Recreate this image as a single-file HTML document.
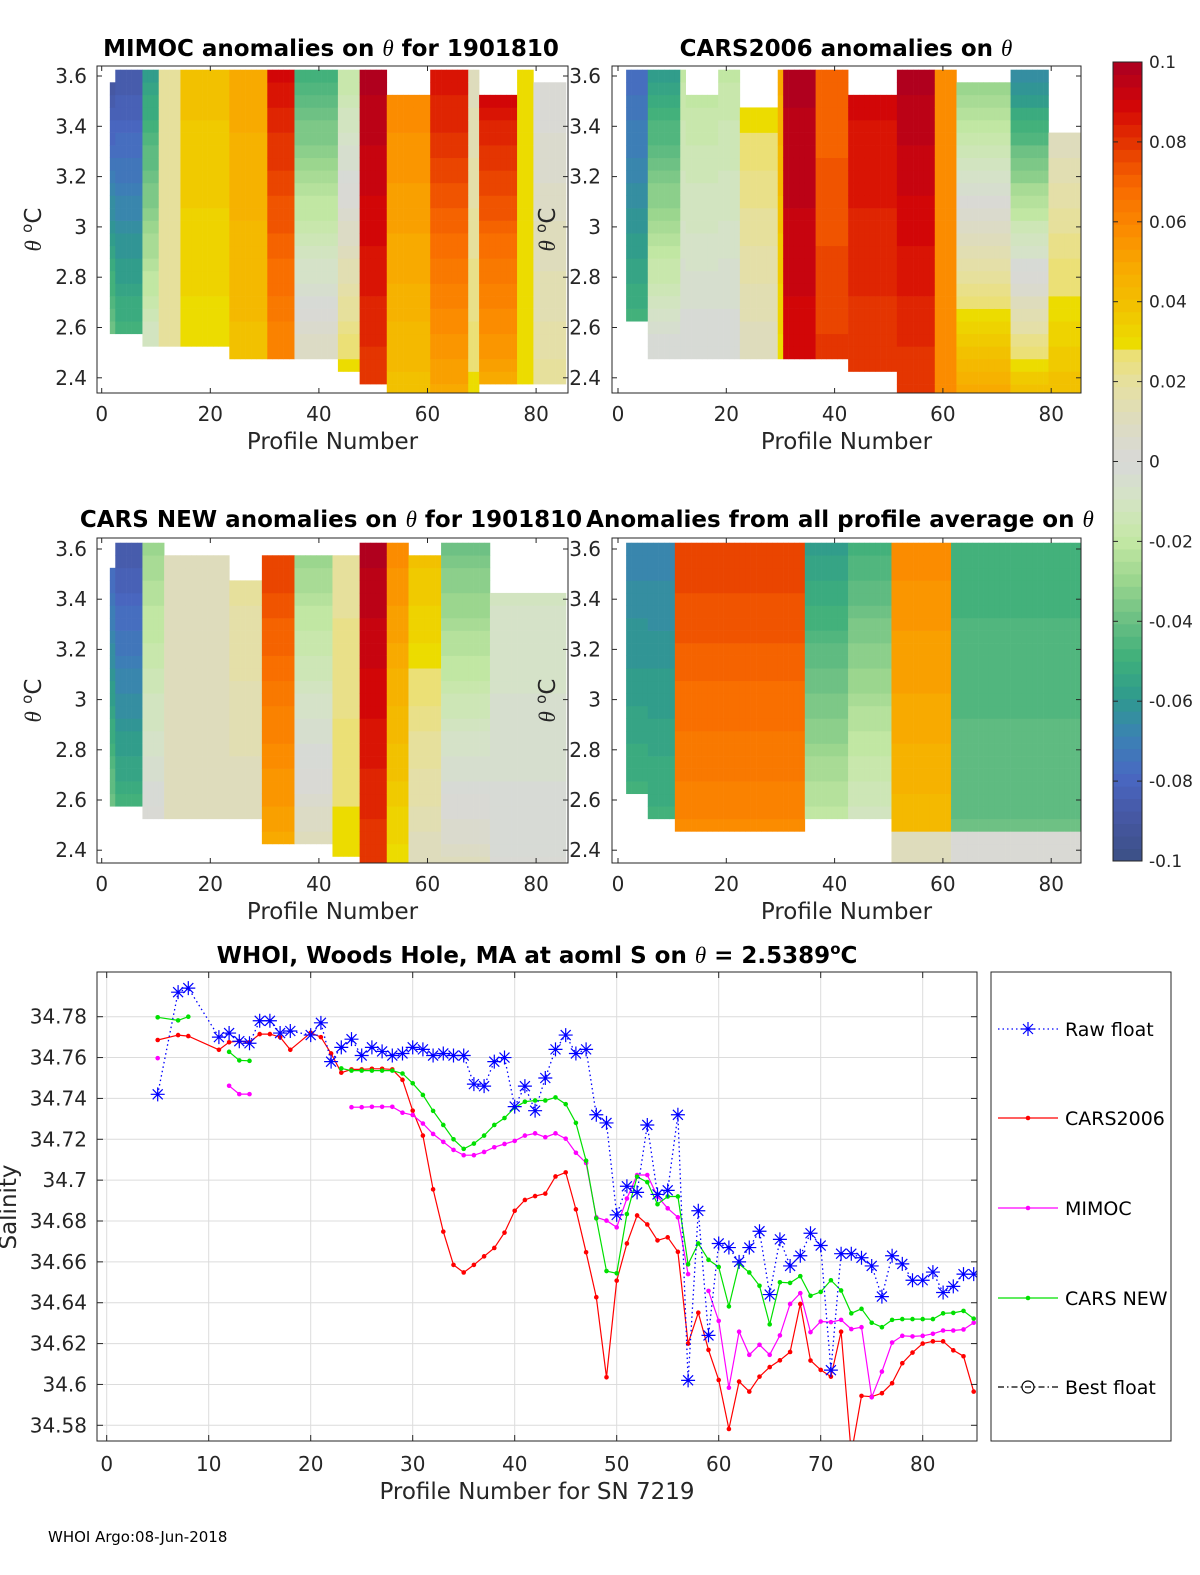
<!DOCTYPE html>
<html><head><meta charset="utf-8">
<style>
html,body{margin:0;padding:0;background:#fff;width:1200px;height:1575px;overflow:hidden;}
svg{display:block;font-family:"DejaVu Sans","Liberation Sans",sans-serif;}
.th{font-family:"Liberation Serif","DejaVu Serif",serif;font-style:italic;font-weight:normal;}
</style></head>
<body>
<svg id="fig" width="1200" height="1575" viewBox="0 0 1200 1575" xmlns="http://www.w3.org/2000/svg">
<rect width="1200" height="1575" fill="#fff"/>
<g id="panels"></g>
<g id="bottom"></g>
<text x="48" y="1542" font-size="15" fill="#000">WHOI Argo:08-Jun-2018</text>
</svg>
<script>
// ---------- heatmap data (runs of profiles; values in units of 0.01) ----------
const P1_end=[1,2,7,10,14,23,30,35,43,47,52,60,67,69,76,79,85];
const P1_top=[null,-9,-9,-6,2,4,5,9,-5,-2,10,6,9,1,9,3,0];
const P1_bot=[null,-4,-5,-1,2,3,4,6,1,3,8,4,5,3,5,3,2];
const P1_hi=[0,3.55,3.64,3.64,3.64,3.64,3.64,3.64,3.64,3.64,3.64,3.53,3.64,3.64,3.53,3.64,3.55];
const P1_lo=[0,2.6,2.6,2.55,2.55,2.55,2.5,2.48,2.48,2.45,2.38,2.35,2.35,2.35,2.38,2.4,2.4];

const P2_end=[1,5,11,12,18,22,29,30,36,42,51,58,62,72,79,85];
const P2_top=[null,-8,-6,-2,-2,-2,3,5,10,7,9,10,6,-3,-7,1];
const P2_bot=[null,-5,0,0,0,0,1,3,9,8,8,8,6,5,4,4];
const P2_hi=[0,3.64,3.64,3.64,3.53,3.64,3.45,3.64,3.64,3.64,3.53,3.64,3.64,3.55,3.64,3.38];
const P2_lo=[0,2.63,2.49,2.49,2.49,2.49,2.49,2.49,2.49,2.49,2.45,2.35,2.35,2.35,2.35,2.35];

const P3_end=[1,2,7,11,23,29,35,42,47,52,56,62,71,85];
const P3_top=[null,-8,-9,-3,1,2,8,-3,2,10,6,4,-4,-1];
const P3_bot=[null,-4,-5,0,1,1,5,1,3,8,3,1,1,0];
const P3_hi=[0,3.52,3.64,3.64,3.58,3.45,3.58,3.58,3.58,3.64,3.64,3.58,3.64,3.4];
const P3_lo=[0,2.6,2.58,2.55,2.55,2.52,2.45,2.45,2.4,2.35,2.35,2.35,2.35,2.35];

const P4_end=[1,5,10,34,42,50,61,85];
const P4_top=[null,-7,-7,8,-6,-5,6,-5];
const P4_bot=[null,-5,-5,6,-2,-1,4,-4];
const P4_hi=[0,3.64,3.64,3.64,3.64,3.64,3.64,3.64];
const P4_lo=[0,2.62,2.55,2.49,2.52,2.52,2.35,2.35];
const P4_floorTh=[0,0,0,0,0,0,2.5,2.5];
const P4_floorVal=[0,0,0,0,0,0,1,0];

const XTICKS_TOP=[0,20,40,60,80];
const YTICKS_TOP=[3.6,3.4,3.2,3,2.8,2.6,2.4];
const CB_TICKS=[0.1,0.08,0.06,0.04,0.02,0,-0.02,-0.04,-0.06,-0.08,-0.1];

// ---------- salinity line chart data ----------
const PROF=[5,7,8,11,12,13,14,15,16,17,18,20,21,22,23,24,25,26,27,28,29,30,31,32,33,34,35,36,37,38,39,40,41,42,43,44,45,46,47,48,49,50,51,52,53,54,55,56,57,58,59,60,61,62,63,64,65,66,67,68,69,70,71,72,73,74,75,76,77,78,79,80,81,82,83,84,85];
const RAW=[34.742,34.792,34.794,34.770,34.772,34.768,34.767,34.778,34.778,34.772,34.773,34.771,34.777,34.758,34.765,34.769,34.761,34.765,34.763,34.761,34.762,34.765,34.764,34.761,34.762,34.761,34.761,34.747,34.746,34.758,34.760,34.736,34.746,34.734,34.750,34.764,34.771,34.762,34.764,34.732,34.728,34.683,34.697,34.694,34.727,34.693,34.695,34.732,34.602,34.685,34.624,34.669,34.667,34.660,34.667,34.675,34.644,34.671,34.658,34.663,34.674,34.668,34.607,34.664,34.664,34.662,34.658,34.643,34.663,34.659,34.651,34.651,34.655,34.645,34.648,34.654,34.654];
const CARS06=[34.7686,34.771,34.7705,34.7638,34.7675,34.768,34.7675,34.7715,34.7715,34.770,34.7638,34.7721,34.770,34.762,34.7526,34.7542,34.7542,34.7545,34.7545,34.7542,34.7491,34.734,34.7218,34.6955,34.6748,34.6585,34.6548,34.6585,34.6627,34.6668,34.6743,34.685,34.6903,34.6922,34.6934,34.7018,34.7038,34.6857,34.6647,34.6427,34.6035,34.6508,34.669,34.6827,34.6783,34.6705,34.672,34.6649,34.62,34.6351,34.6169,34.6022,34.5782,34.6014,34.5965,34.6038,34.6085,34.6118,34.6159,34.6394,34.6117,34.6071,34.6038,34.6258,34.566,34.5944,34.594,34.5957,34.6006,34.6104,34.6156,34.62,34.6211,34.6211,34.6167,34.6138,34.5965];
const MIMOC=[34.7597,null,null,null,34.7462,34.7421,34.7421,null,null,null,null,null,null,null,null,34.7357,34.7357,34.7359,34.7359,34.7359,34.733,34.7319,34.7277,34.7226,34.7187,34.7148,34.7122,34.7122,34.7138,34.7161,34.7177,34.7192,34.7218,34.7229,34.721,34.7229,34.7203,34.7134,34.7084,34.6818,34.6802,34.6769,34.691,34.7025,34.7025,34.692,34.6862,34.6818,34.654,null,34.6458,34.6311,34.5984,34.6258,34.6145,34.6194,34.6145,34.624,34.6394,34.6447,34.6256,34.6308,34.6305,34.6316,34.6271,34.628,34.5937,34.6063,34.6205,34.6238,34.6235,34.6238,34.6248,34.6264,34.6264,34.6269,34.6302];
const CARSNEW=[34.7797,34.7782,34.780,null,34.7628,34.7586,34.7584,null,null,null,null,null,null,null,34.7547,34.7536,34.7536,34.7536,34.7536,34.7536,34.7522,34.7474,34.7417,34.7339,34.727,34.72,34.7153,34.7179,34.7218,34.727,34.7304,34.7355,34.7384,34.739,34.739,34.7405,34.7372,34.728,34.7095,34.6813,34.6555,34.6544,34.6834,34.7017,34.699,34.6882,34.692,34.692,34.6588,34.669,34.661,34.6575,34.6382,34.659,34.6548,34.6483,34.6294,34.650,34.6497,34.653,34.6434,34.6453,34.651,34.646,34.6348,34.637,34.6302,34.628,34.6316,34.632,34.632,34.632,34.632,34.6348,34.635,34.636,34.6322];
const XTICKS_B=[0,10,20,30,40,50,60,70,80];
const YTICKS_B=[34.58,34.6,34.62,34.64,34.66,34.68,34.7,34.72,34.74,34.76,34.78];

const NS="http://www.w3.org/2000/svg";
function mk(tag,attrs,parent){const e=document.createElementNS(NS,tag);for(const k in attrs)e.setAttribute(k,attrs[k]);if(parent)parent.appendChild(e);return e;}

const CM_V=[-10,-9,-8,-7,-6,-5,-4,-3,-2,-1,0,1,2,2.8,3,4,5,6,7,8,9,10];
const CM_C=["#3d5189","#4658a4","#4968c2","#3b82b4","#2f9a8e","#3fb07a","#6cc084","#9cd68e","#c4e8a4","#d4e4c4","#d8d8d8","#dddcc0","#e6e0a0","#ece070","#ecdc00","#f2c000","#f9a800","#fb8800","#f86a00","#e63a00","#d40606","#b0001e"];
function hx(c){return [parseInt(c.substr(1,2),16),parseInt(c.substr(3,2),16),parseInt(c.substr(5,2),16)];}
function cmap(v){
  v=Math.max(-10,Math.min(10,v));
  v=Math.round((v+10)/20*63)/63*20-10;
  for(let i=0;i<CM_V.length-1;i++){
    if(v<=CM_V[i+1]){const t=(v-CM_V[i])/(CM_V[i+1]-CM_V[i]);const a=hx(CM_C[i]),b=hx(CM_C[i+1]);
      return "rgb("+a.map((x,j)=>Math.round(x+(b[j]-x)*t)).join(",")+")";}
  }
  return CM_C[CM_C.length-1];
}

const panelsG=document.getElementById('panels');
const PANELS=[
 {name:"mimoc",L:97,R:568,T:66,B:393,x0:101.7,xs:5.43,y36:76,ys:251.5,labRight:87,title:["MIMOC anomalies on ","θ","  for 1901810"],tx:331,ty:56,end:P1_end,top:P1_top,bot:P1_bot,hi:P1_hi,lo:P1_lo,ylabX:36},
 {name:"cars2006",L:612,R:1081,T:66,B:393,x0:618,xs:5.415,y36:76,ys:251.5,labRight:601,title:["CARS2006 anomalies on ","θ",""],tx:846,ty:56,end:P2_end,top:P2_top,bot:P2_bot,hi:P2_hi,lo:P2_lo,ylabX:550},
 {name:"cars-new",L:97,R:568,T:538,B:863,x0:101.7,xs:5.43,y36:549,ys:251,labRight:87,title:["CARS NEW anomalies on ","θ"," for 1901810"],tx:331,ty:527,end:P3_end,top:P3_top,bot:P3_bot,hi:P3_hi,lo:P3_lo,ylabX:36},
 {name:"all-avg",L:612,R:1081,T:538,B:863,x0:618,xs:5.415,y36:549,ys:251,labRight:601,title:["Anomalies from all profile average on ","θ",""],tx:840,ty:527,end:P4_end,top:P4_top,bot:P4_bot,hi:P4_hi,lo:P4_lo,floorTh:P4_floorTh,floorVal:P4_floorVal,ylabX:550}
];

PANELS.forEach((P,pi)=>{
  const g=mk('g',{},panelsG);
  
  
  const X=p=>P.x0+p*P.xs, Y=t=>P.y36+(3.6-t)*P.ys;
  const cid='clip'+pi;
  const cp=mk('clipPath',{id:cid},g);mk('rect',{x:P.L,y:P.T,width:P.R-P.L,height:P.B-P.T},cp);
  const hm=mk('g',{'clip-path':'url(#'+cid+')'},g);
  
  
  let start=1;
  for(let r=0;r<P.end.length;r++){
    const e=P.end[r];
    if(P.top[r]!==null){
      for(let p=start;p<=e;p++){
        for(let k=0;k<28;k++){
          const c=2.30+k*0.05;
          if(c<P.lo[r]-0.001||c>P.hi[r]+0.001)continue;
          const f=(c-P.lo[r])/(P.hi[r]-P.lo[r]);
          let v=P.bot[r]+(P.top[r]-P.bot[r])*f;
          if(P.floorTh&&P.floorTh[r]&&c<P.floorTh[r])v=P.floorVal[r];
          const cell=mk('rect',{x:X(p-0.5).toFixed(2),y:Y(c+0.025).toFixed(2),width:(P.xs+0.3).toFixed(2),height:(0.05*P.ys+0.3).toFixed(2),fill:cmap(v)},hm);
          
          
        }
      }
    }
    start=e+1;
  }
  const fr=mk('rect',{x:P.L,y:P.T,width:P.R-P.L,height:P.B-P.T,fill:'none',stroke:'#262626','stroke-width':1},g);
  
  
  XTICKS_TOP.forEach(t=>{
    const x=X(t);
    mk('line',{x1:x,x2:x,y1:P.B,y2:P.B-5,stroke:'#262626'},g);
    mk('line',{x1:x,x2:x,y1:P.T,y2:P.T+5,stroke:'#262626'},g);
    const tl=mk('text',{x:x,y:P.B+28,'font-size':20,'text-anchor':'middle',fill:'#262626'},g);
    tl.textContent=t;
    
    
  });
  YTICKS_TOP.forEach(t=>{
    const y=Y(t);
    mk('line',{x1:P.L,x2:P.L+5,y1:y,y2:y,stroke:'#262626'},g);
    mk('line',{x1:P.R,x2:P.R-5,y1:y,y2:y,stroke:'#262626'},g);
    const tl=mk('text',{x:P.labRight,y:y+7,'font-size':20,'text-anchor':'end',fill:'#262626'},g);
    tl.textContent=String(t);
    
    
  });
  const xl=mk('text',{x:(P.L+P.R)/2,y:P.B+56,'font-size':23,'text-anchor':'middle',fill:'#262626'},g);
  xl.textContent='Profile Number';
  
  
  const yl=mk('text',{x:0,y:0,'font-size':23,'text-anchor':'middle',fill:'#262626',transform:'translate('+(P.ylabX+5)+','+((P.T+P.B)/2)+') rotate(-90)'},g);
  yl.innerHTML='<tspan class="th">θ</tspan> <tspan font-size="15" dy="-9">o</tspan><tspan dy="9">C</tspan>';
  
  
  const ti=mk('text',{x:P.tx,y:P.ty,'font-size':23,'font-weight':'bold','text-anchor':'middle',fill:'#000'},g);
  ti.innerHTML=P.title[0]+'<tspan class="th">'+P.title[1]+'</tspan>'+P.title[2];
  
  
});

(function(){
  const g=mk('g',{},panelsG);
  
  
  const L=1113,R=1142,T=62,B=861;
  const n=64;
  for(let i=0;i<n;i++){
    const v=-10+20*(i+0.5)/n;
    mk('rect',{x:L,y:(B-(i+1)*(B-T)/n).toFixed(2),width:R-L,height:((B-T)/n+0.5).toFixed(2),fill:cmap(v)},g);
  }
  mk('rect',{x:L,y:T,width:R-L,height:B-T,fill:'none',stroke:'#262626'},g);
  CB_TICKS.forEach(t=>{
    const y=B-(t+0.1)/0.2*(B-T);
    mk('line',{x1:R,x2:R-5,y1:y,y2:y,stroke:'#262626'},g);
    mk('line',{x1:L,x2:L+5,y1:y,y2:y,stroke:'#262626'},g);
    const tl=mk('text',{x:1149,y:y+6,'font-size':17,fill:'#262626'},g);
    tl.textContent=String(t);
    
    
  });
})();

(function(){
  const g=document.getElementById('bottom');
  const L=97,R=977,T=972,B=1441;
  const X=p=>106.7+p*10.2, Y=s=>1016.7+(34.78-s)*2043;
  const gridG=mk('g',{},g);
  
  
  XTICKS_B.forEach(t=>{mk('line',{x1:X(t),x2:X(t),y1:T,y2:B,stroke:'#dcdcdc'},gridG);});
  YTICKS_B.forEach(t=>{mk('line',{x1:L,x2:R,y1:Y(t),y2:Y(t),stroke:'#dcdcdc'},gridG);});
  const cp=mk('clipPath',{id:'clipB'},g);mk('rect',{x:L,y:T,width:R-L,height:B-T},cp);
  const plot=mk('g',{'clip-path':'url(#clipB)'},g);
  function series(vals,color,name,dash,marker){
    const sg=mk('g',{},plot);
    
    
    let d='',pen=false;
    vals.forEach((v,i)=>{
      if(v===null){pen=false;return;}
      d+=(pen?'L':'M')+X(PROF[i]).toFixed(1)+' '+Y(v).toFixed(1)+' ';pen=true;
    });
    const ln=mk('path',{d:d,fill:'none',stroke:color,'stroke-width':dash?1.3:1.2},sg);
    if(dash)ln.setAttribute('stroke-dasharray',dash);
    
    
    vals.forEach((v,i)=>{
      if(v===null)return;
      const x=X(PROF[i]),y=Y(v);
      if(marker==='star'){
        const m=mk('path',{d:`M${x-7} ${y}H${x+7}M${x} ${y-7}V${y+7}M${x-5} ${y-5}L${x+5} ${y+5}M${x-5} ${y+5}L${x+5} ${y-5}`,stroke:color,'stroke-width':1.2,fill:'none'},sg);
        
        
      }else{
        const m=mk('circle',{cx:x,cy:y,r:2.3,fill:color},sg);
        
        
      }
    });
  }
  series(CARS06,'#ff0000','cars2006',null,'dot');
  series(MIMOC,'#ff00ff','mimoc',null,'dot');
  series(CARSNEW,'#00e000','cars-new',null,'dot');
  series(RAW,'#0000ff','raw-float','1.5 3','star');
  const fr=mk('rect',{x:L,y:T,width:R-L,height:B-T,fill:'none',stroke:'#262626'},g);
  
  
  XTICKS_B.forEach(t=>{
    mk('line',{x1:X(t),x2:X(t),y1:B,y2:B-6,stroke:'#262626'},g);
    mk('line',{x1:X(t),x2:X(t),y1:T,y2:T+6,stroke:'#262626'},g);
    const tl=mk('text',{x:X(t),y:B+30,'font-size':20,'text-anchor':'middle',fill:'#262626'},g);
    tl.textContent=t;
    
    
  });
  YTICKS_B.forEach(t=>{
    mk('line',{x1:L,x2:L+6,y1:Y(t),y2:Y(t),stroke:'#262626'},g);
    mk('line',{x1:R,x2:R-6,y1:Y(t),y2:Y(t),stroke:'#262626'},g);
    const tl=mk('text',{x:87,y:Y(t)+7,'font-size':20,'text-anchor':'end',fill:'#262626'},g);
    tl.textContent=String(t);
    
    
  });
  const xl=mk('text',{x:537,y:1499,'font-size':23,'text-anchor':'middle',fill:'#262626'},g);
  xl.textContent='Profile Number for SN 7219';
  
  
  const yl=mk('text',{x:0,y:0,'font-size':23,'text-anchor':'middle',fill:'#262626',transform:'translate(16,1207) rotate(-90)'},g);
  yl.textContent='Salinity';
  
  
  const ti=mk('text',{x:537,y:963,'font-size':23,'font-weight':'bold','text-anchor':'middle',fill:'#000'},g);
  ti.innerHTML='WHOI, Woods Hole, MA at aoml S on <tspan class="th">θ</tspan> = 2.5389<tspan font-size="15" dy="-9">o</tspan><tspan dy="9">C</tspan>';
  
  

  const lg=mk('g',{},g);
  
  
  mk('rect',{x:991,y:972,width:180,height:469,fill:'#fff',stroke:'#262626'},lg);
  const LEG=[['Raw float','#0000ff','1.5 3','star',1029],['CARS2006','#ff0000',null,'dot',1118],['MIMOC','#ff00ff',null,'dot',1208],['CARS NEW','#00e000',null,'dot',1298],['Best float','#000000','6 3 1.5 3','circle',1387]];
  LEG.forEach(e=>{
    const eg=mk('g',{},lg);
    
    
    const y=e[4];
    const l=mk('line',{x1:998,x2:1058,y1:y,y2:y,stroke:e[1],'stroke-width':1.2},eg);
    if(e[2])l.setAttribute('stroke-dasharray',e[2]);
    const x=1028;
    if(e[3]==='star')mk('path',{d:`M${x-7} ${y}H${x+7}M${x} ${y-7}V${y+7}M${x-5} ${y-5}L${x+5} ${y+5}M${x-5} ${y+5}L${x+5} ${y-5}`,stroke:e[1],'stroke-width':1.2,fill:'none'},eg);
    else if(e[3]==='dot')mk('circle',{cx:x,cy:y,r:2.3,fill:e[1]},eg);
    else mk('circle',{cx:x,cy:y,r:6,fill:'none',stroke:e[1],'stroke-width':1.2},eg);
    const t=mk('text',{x:1065,y:y+7,'font-size':19,fill:'#000'},eg);
    t.textContent=e[0];
  });
})();
</script>
</body></html>
